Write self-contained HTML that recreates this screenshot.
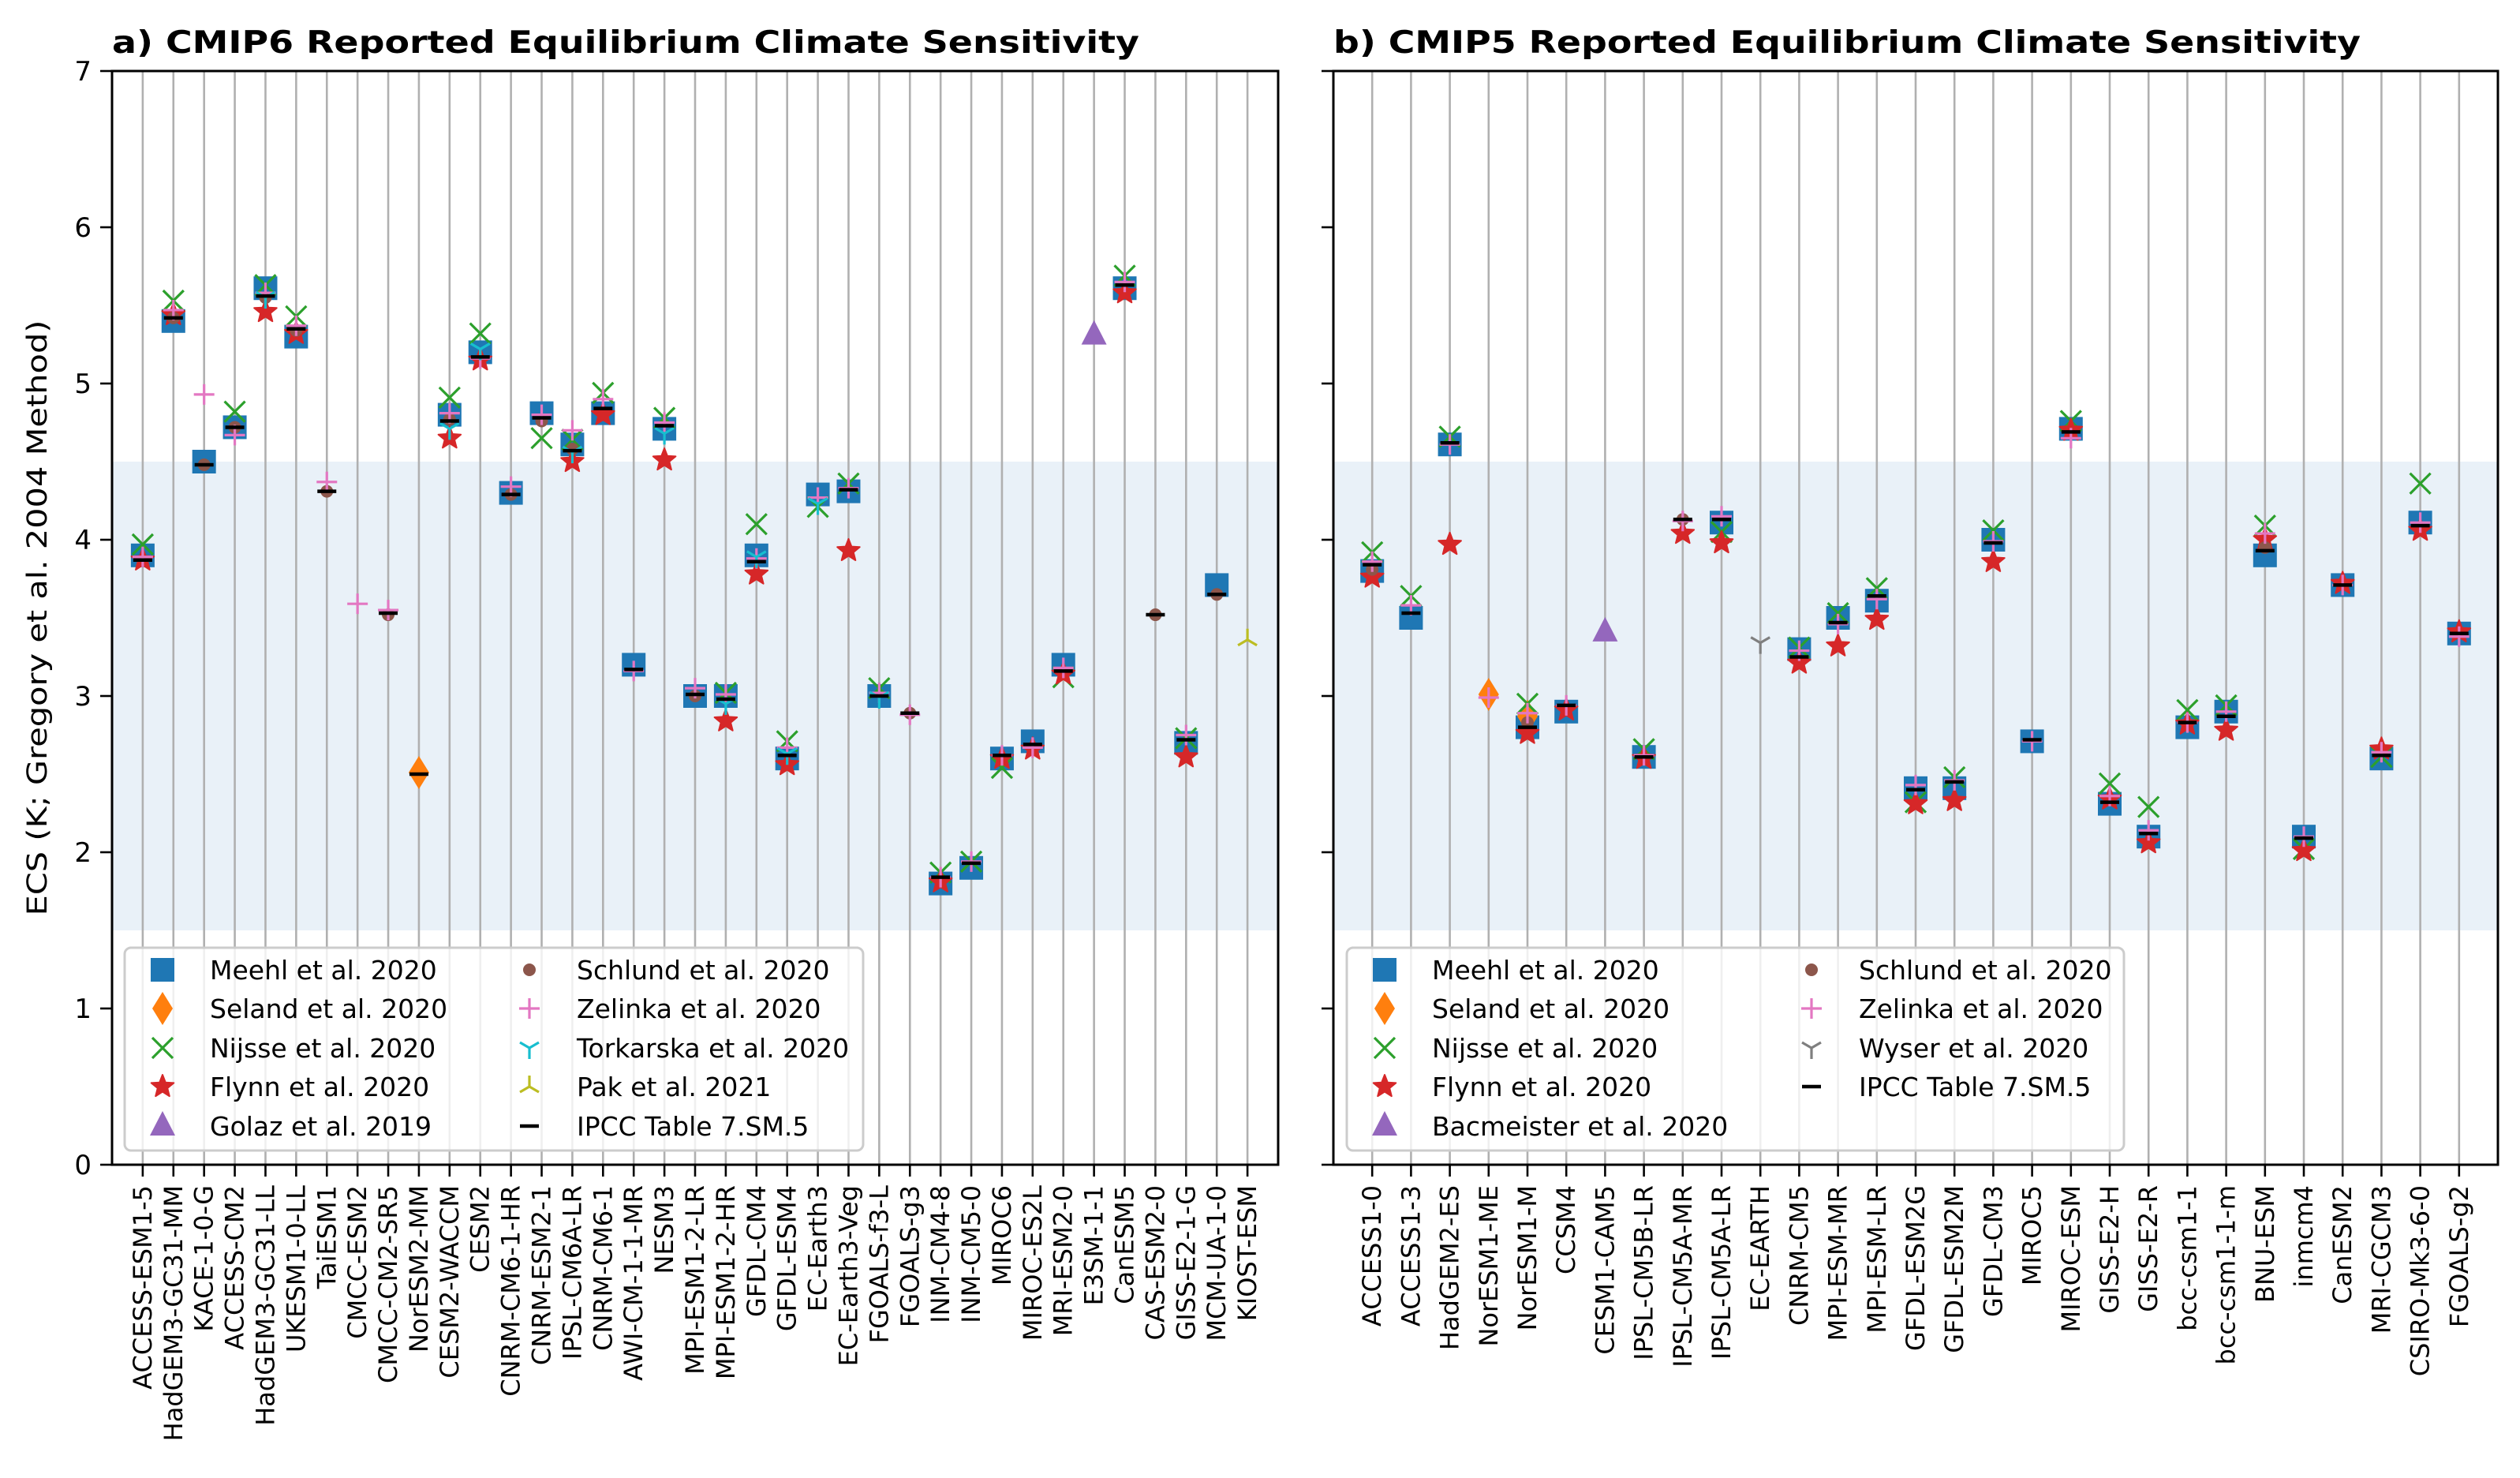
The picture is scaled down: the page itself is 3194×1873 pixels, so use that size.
<!DOCTYPE html>
<html><head><meta charset="utf-8">
<style>
html,body{margin:0;padding:0;background:#fff;}
svg{display:block;font-family:"DejaVu Sans","Liberation Sans",sans-serif;}
</style></head>
<body>
<svg id="chart" xmlns="http://www.w3.org/2000/svg" width="3194" height="1873" viewBox="0 0 3194 1873"></svg>
<script>
// ---------- Panel a: CMIP6 ----------
const aModels = ["ACCESS-ESM1-5","HadGEM3-GC31-MM","KACE-1-0-G","ACCESS-CM2","HadGEM3-GC31-LL","UKESM1-0-LL","TaiESM1","CMCC-ESM2","CMCC-CM2-SR5","NorESM2-MM","CESM2-WACCM","CESM2","CNRM-CM6-1-HR","CNRM-ESM2-1","IPSL-CM6A-LR","CNRM-CM6-1","AWI-CM-1-1-MR","NESM3","MPI-ESM1-2-LR","MPI-ESM1-2-HR","GFDL-CM4","GFDL-ESM4","EC-Earth3","EC-Earth3-Veg","FGOALS-f3-L","FGOALS-g3","INM-CM4-8","INM-CM5-0","MIROC6","MIROC-ES2L","MRI-ESM2-0","E3SM-1-1","CanESM5","CAS-ESM2-0","GISS-E2-1-G","MCM-UA-1-0","KIOST-ESM"];
const aMeehl   = [3.9,5.4,4.5,4.72,5.61,5.3,null,null,null,null,4.8,5.2,4.3,4.81,4.61,4.81,3.2,4.71,3.0,3.0,3.9,2.6,4.29,4.31,3.0,null,1.8,1.9,2.6,2.71,3.2,null,5.61,null,2.7,3.71,null];
const aSeland  = [null,null,null,null,null,null,null,null,null,2.51,null,null,null,null,null,null,null,null,null,null,null,null,null,null,null,null,null,null,null,null,null,null,null,null,null,null,null];
const aNijsse  = [3.97,5.53,null,4.82,5.63,5.43,null,null,null,null,4.91,5.32,null,4.65,4.64,4.94,null,4.78,null,3.02,4.10,2.71,4.21,4.36,3.05,null,1.87,1.94,2.54,null,3.12,null,5.69,null,2.73,null,null];
const aFlynn   = [3.87,5.44,null,null,5.46,5.32,null,null,null,null,4.65,5.15,null,null,4.50,4.80,null,4.51,null,2.84,3.78,2.56,null,3.93,null,null,1.81,null,2.60,2.66,3.14,null,5.58,null,2.61,null,null];
const aGolaz   = [null,null,null,null,null,null,null,null,null,null,null,null,null,null,null,null,null,null,null,null,null,null,null,null,null,null,null,null,null,null,null,5.31,null,null,null,null,null];
const aSchlund = [null,5.42,4.48,4.72,5.55,5.34,4.31,null,3.52,null,4.77,null,4.29,4.76,4.58,null,null,null,3.0,null,null,null,null,null,null,2.89,null,null,null,null,null,null,null,3.52,null,3.65,null];
const aZelinka = [3.89,5.47,4.93,4.67,5.58,5.37,4.37,3.59,3.55,null,4.81,5.16,4.34,4.80,4.70,4.90,3.16,4.75,3.05,3.01,3.88,2.67,4.27,4.33,3.02,2.88,1.84,1.94,2.62,2.67,3.18,null,5.65,null,2.75,null,null];
const aTork    = [null,null,null,null,5.55,null,null,null,null,null,4.71,5.22,null,null,4.56,null,null,4.68,null,2.95,3.89,2.63,4.23,null,2.99,null,null,null,null,null,null,null,null,null,null,null,null];
const aPak     = [null,null,null,null,null,null,null,null,null,null,null,null,null,null,null,null,null,null,null,null,null,null,null,null,null,null,null,null,null,null,null,null,null,null,null,null,3.36];
const aIpcc    = [3.87,5.42,4.48,4.72,5.56,5.35,4.31,null,3.53,2.50,4.76,5.17,4.29,4.78,4.57,4.84,3.17,4.73,3.01,2.98,3.86,2.62,null,4.32,3.00,2.89,1.84,1.93,2.62,2.69,3.16,null,5.63,3.52,2.72,3.65,null];

// ---------- Panel b: CMIP5 ----------
const bModels = ["ACCESS1-0","ACCESS1-3","HadGEM2-ES","NorESM1-ME","NorESM1-M","CCSM4","CESM1-CAM5","IPSL-CM5B-LR","IPSL-CM5A-MR","IPSL-CM5A-LR","EC-EARTH","CNRM-CM5","MPI-ESM-MR","MPI-ESM-LR","GFDL-ESM2G","GFDL-ESM2M","GFDL-CM3","MIROC5","MIROC-ESM","GISS-E2-H","GISS-E2-R","bcc-csm1-1","bcc-csm1-1-m","BNU-ESM","inmcm4","CanESM2","MRI-CGCM3","CSIRO-Mk3-6-0","FGOALS-g2"];
const bMeehl   = [3.80,3.50,4.61,null,2.80,2.90,null,2.61,null,4.11,null,3.30,3.50,3.61,2.41,2.41,4.00,2.71,4.71,2.31,2.10,2.80,2.90,3.90,2.10,3.71,2.60,4.11,3.40];
const bSeland  = [null,null,null,3.01,2.87,null,null,null,null,null,null,null,null,null,null,null,null,null,null,null,null,null,null,null,null,null,null,null,null];
const bNijsse  = [3.92,3.64,4.66,null,2.95,null,null,2.66,null,4.05,null,3.31,3.53,3.69,2.32,2.48,4.06,null,4.76,2.44,2.29,2.91,2.94,4.09,2.02,null,2.61,4.36,null];
const bFlynn   = [3.76,null,3.97,null,2.76,2.91,null,2.60,4.04,3.98,null,3.21,3.32,3.49,2.31,2.33,3.86,null,4.70,2.34,2.06,2.82,2.78,4.00,2.01,3.72,2.66,4.06,3.41];
const bBac     = [null,null,null,null,null,null,3.41,null,null,null,null,null,null,null,null,null,null,null,null,null,null,null,null,null,null,null,null,null,null];
const bSchlund = [3.81,null,null,null,2.83,null,null,null,4.13,null,null,null,null,null,null,null,null,null,null,null,null,null,null,3.95,null,null,null,null,null];
const bZelinka = [3.86,3.58,4.61,2.99,2.89,2.94,null,2.62,4.12,4.15,null,3.29,3.46,3.62,2.43,2.46,3.99,2.71,4.65,2.36,2.14,2.83,2.90,4.04,2.10,3.71,2.64,4.11,3.38];
const bWyser   = [null,null,null,null,null,null,null,null,null,null,3.34,null,null,null,null,null,null,null,null,null,null,null,null,null,null,null,null,null,null];
const bIpcc    = [3.84,3.53,4.62,null,2.80,2.94,null,2.61,4.13,4.13,null,3.25,3.47,3.64,2.40,2.45,3.98,2.72,4.69,2.32,2.12,2.83,2.87,3.93,2.09,3.71,2.62,4.09,3.40];

const yTicks = [0,1,2,3,4,5,6,7];
const bandRange = [1.5,4.5];

const NS = "http://www.w3.org/2000/svg";
const svg = document.getElementById('chart');
function el(tag, attrs, parent){
  const e = document.createElementNS(NS, tag);
  for (const k in attrs) e.setAttribute(k, attrs[k]);
  (parent||svg).appendChild(e);
  return e;
}
const C = {blue:"#1f77b4",orange:"#ff7f0e",green:"#2ca02c",red:"#d62728",purple:"#9467bd",brown:"#8c564b",pink:"#e377c2",gray:"#7f7f7f",olive:"#bcbd22",cyan:"#17becf"};

function starPts(cx,cy,R,r){
  let p=[];
  for(let i=0;i<10;i++){
    const a=-Math.PI/2+i*Math.PI/5; const rr=i%2?r:R;
    p.push((cx+rr*Math.cos(a)).toFixed(1)+","+(cy+rr*Math.sin(a)).toFixed(1));
  }
  return p.join(" ");
}
function marker(g, type, x, y){
  let m;
  switch(type){
    case 'square': m=el('rect',{x:x-15,y:y-15,width:30,height:30,fill:C.blue},g); break;
    case 'diamond': m=el('polygon',{points:`${x},${y-21} ${x+13},${y} ${x},${y+21} ${x-13},${y}`,fill:C.orange},g); break;
    case 'x': m=el('path',{d:`M${x-13},${y-13}L${x+13},${y+13}M${x-13},${y+13}L${x+13},${y-13}`,stroke:C.green,'stroke-width':3.2,fill:'none'},g); break;
    case 'star': m=el('polygon',{points:starPts(x,y,15,6.5),fill:C.red,stroke:C.red,'stroke-width':2,'stroke-linejoin':'round'},g); break;
    case 'triangle': m=el('polygon',{points:`${x},${y-19} ${x+16},${y+12} ${x-16},${y+12}`,fill:C.purple},g); break;
    case 'dot': m=el('circle',{cx:x,cy:y,r:8,fill:C.brown},g); break;
    case 'plus': m=el('path',{d:`M${x-13},${y}L${x+13},${y}M${x},${y-13}L${x},${y+13}`,stroke:C.pink,'stroke-width':3.2,fill:'none'},g); break;
    case 'tridown': m=el('path',{d:`M${x},${y}L${x},${y+14}M${x},${y}L${x-12},${y-7}M${x},${y}L${x+12},${y-7}`,stroke:g.getAttribute('data-col'),'stroke-width':3.2,fill:'none'},g); break;
    case 'triup': m=el('path',{d:`M${x},${y}L${x},${y-14}M${x},${y}L${x-12},${y+7}M${x},${y}L${x+12},${y+7}`,stroke:C.olive,'stroke-width':3.2,fill:'none'},g); break;
    case 'hline': m=el('path',{d:`M${x-12},${y}L${x+12},${y}`,stroke:'#000','stroke-width':4.5},g); break;
  }
  return m;
}

function panel(cfg){
  const {x0,x1,y0,y1,models,series,legend,title,id,showYLabels,legendBox}=cfg;
  const n = models.length;
  const xs = i => x0 + (i+1)*(x1-x0)/(n+1);
  const ys = v => y1 - v*(y1-y0)/7;
  const g = el('g',{});  
  // band
  const band = el('rect',{x:x0,y:ys(bandRange[1]),width:x1-x0,height:ys(bandRange[0])-ys(bandRange[1]),fill:"#e9f1f8"},g);
   
  // grid
  models.forEach((m,i)=>{
    const l=el('line',{x1:xs(i),x2:xs(i),y1:y0,y2:y1,stroke:'#b0b0b0','stroke-width':2.6},g);
     
  });
  // series
  series.forEach(s=>{
    const sg=el('g',{'data-col':s.col||''},g);
     
    s.data.forEach((v,i)=>{
      if(v==null) return;
      const mk=marker(sg,s.type,xs(i),ys(v));
       
    });
  });
  // spines
  const sp=el('rect',{x:x0,y:y0,width:x1-x0,height:y1-y0,fill:'none',stroke:'#000','stroke-width':3},g);
   
  // y ticks
  yTicks.forEach(t=>{
    const tl=el('line',{x1:x0-15,x2:x0,y1:ys(t),y2:ys(t),stroke:'#000','stroke-width':2.6},g);
     
    if(showYLabels){
      const tx=el('text',{x:x0-26,y:ys(t)+12,'text-anchor':'end','font-size':34,fill:'#000'},g);
      tx.textContent=t;
       
    }
  });
  // x ticks + labels
  models.forEach((m,i)=>{
    const tl=el('line',{x1:xs(i),x2:xs(i),y1:y1,y2:y1+15,stroke:'#000','stroke-width':2.6},g);
     
    const tx=el('text',{x:0,y:0,'text-anchor':'end','font-size':32,fill:'#000',transform:`translate(${xs(i)+11},${y1+26}) rotate(-90)`},g);
    tx.textContent=m;
     
  });
  // title
  const tt=el('text',{x:x0,y:y0-23,'font-size':39,'font-weight':'bold',fill:'#000',textLength:1302,lengthAdjust:'spacingAndGlyphs'},g);
  tt.textContent=title;
   
  // legend
  const lg=el('g',{},g);  
  el('rect',{x:legendBox[0],y:1201,width:legendBox[1]-legendBox[0],height:257,rx:8,fill:'#fff','fill-opacity':0.8,stroke:'#cccccc','stroke-width':3},lg);
  const rows=[1229,1278,1328,1377,1427];
  legend.forEach((L,k)=>{
    const col=k<5?0:1, r=k%5;
    const mx = legendBox[0] + (col? cfg.col2 : 48), tx = mx+60;
    const eg=el('g',{'data-col':L.col||''},lg);
     
    marker(eg,L.type,mx,rows[r]);
    const t=el('text',{x:tx,y:rows[r]+12,'font-size':33,fill:'#000'},eg);
    t.textContent=L.label;
  });
}

panel({id:'cmip6',x0:142,x1:1620,y0:90,y1:1476,models:aModels,showYLabels:true,
  title:"a) CMIP6 Reported Equilibrium Climate Sensitivity",legendBox:[158,1094],col2:513,
  series:[{key:'meehl',type:'square',data:aMeehl},{key:'seland',type:'diamond',data:aSeland},{key:'nijsse',type:'x',data:aNijsse},{key:'flynn',type:'star',data:aFlynn},{key:'golaz',type:'triangle',data:aGolaz},{key:'schlund',type:'dot',data:aSchlund},{key:'zelinka',type:'plus',data:aZelinka},{key:'torkarska',type:'tridown',col:C.cyan,data:aTork},{key:'pak',type:'triup',data:aPak},{key:'ipcc',type:'hline',data:aIpcc}],
  legend:[{type:'square',label:'Meehl et al. 2020'},{type:'diamond',label:'Seland et al. 2020'},{type:'x',label:'Nijsse et al. 2020'},{type:'star',label:'Flynn et al. 2020'},{type:'triangle',label:'Golaz et al. 2019'},{type:'dot',label:'Schlund et al. 2020'},{type:'plus',label:'Zelinka et al. 2020'},{type:'tridown',col:C.cyan,label:'Torkarska et al. 2020'},{type:'triup',label:'Pak et al. 2021'},{type:'hline',label:'IPCC Table 7.SM.5'}]
});
panel({id:'cmip5',x0:1690,x1:3166,y0:90,y1:1476,models:bModels,showYLabels:false,
  title:"b) CMIP5 Reported Equilibrium Climate Sensitivity",legendBox:[1707,2692],col2:589,
  series:[{key:'meehl',type:'square',data:bMeehl},{key:'seland',type:'diamond',data:bSeland},{key:'nijsse',type:'x',data:bNijsse},{key:'flynn',type:'star',data:bFlynn},{key:'bacmeister',type:'triangle',data:bBac},{key:'schlund',type:'dot',data:bSchlund},{key:'zelinka',type:'plus',data:bZelinka},{key:'wyser',type:'tridown',col:C.gray,data:bWyser},{key:'ipcc',type:'hline',data:bIpcc}],
  legend:[{type:'square',label:'Meehl et al. 2020'},{type:'diamond',label:'Seland et al. 2020'},{type:'x',label:'Nijsse et al. 2020'},{type:'star',label:'Flynn et al. 2020'},{type:'triangle',label:'Bacmeister et al. 2020'},{type:'dot',label:'Schlund et al. 2020'},{type:'plus',label:'Zelinka et al. 2020'},{type:'tridown',col:C.gray,label:'Wyser et al. 2020'},{type:'hline',label:'IPCC Table 7.SM.5'}]
});
const yl=el('text',{x:0,y:0,'text-anchor':'middle','font-size':35,fill:'#000',transform:'translate(59,783) rotate(-90)',textLength:755,lengthAdjust:'spacingAndGlyphs'});
yl.textContent="ECS (K; Gregory et al. 2004 Method)";


</script>
</body></html>
